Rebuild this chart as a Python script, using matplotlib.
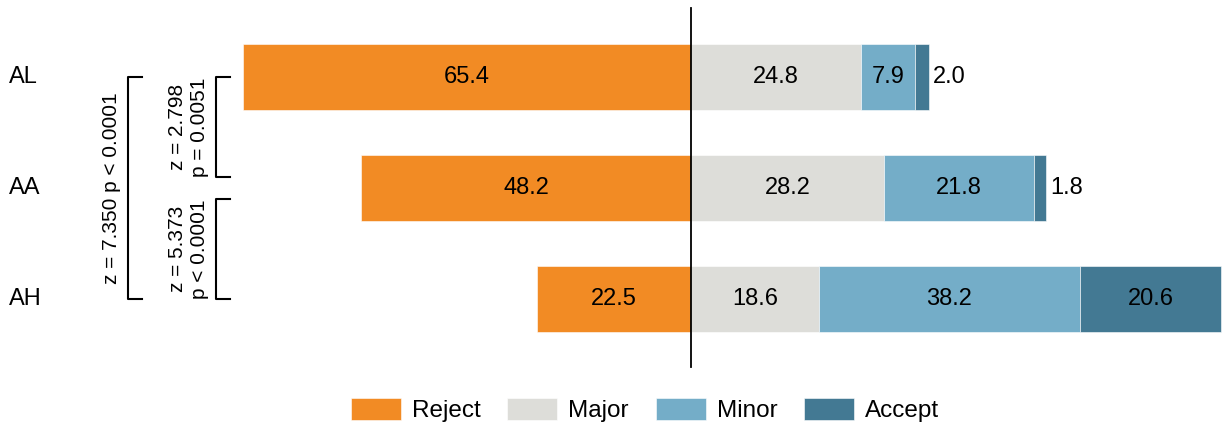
import numpy as np
import matplotlib
matplotlib.use('Agg')
import matplotlib.pyplot as plt
from matplotlib.patches import Patch

plt.rcParams['font.family'] = ['Liberation Sans', 'DejaVu Sans']

groups = ['AL', 'AA', 'AH']
reject = [65.4, 48.2, 22.5]
major = [24.8, 28.2, 18.6]
minor = [7.9, 21.8, 38.2]
accept = [2.0, 1.8, 20.6]
categories = ['Reject', 'Major', 'Minor', 'Accept']
colors = ['#F28B24', '#DDDDD9', '#74ADC8', '#437993']

fig = plt.figure(figsize=(12.29, 4.33), dpi=100)
ax = fig.add_axes([0, 0, 1, 1])
ax.set_xlim(-100.9, 78.5)
ax.set_ylim(3.207, -0.694)
ax.axis('off')

y = np.arange(len(groups))
h = 0.6
fs = 17
fs_note = 15

# reject goes left of zero, the rest stack to the right
ax.barh(y, [-r for r in reject], height=h, color=colors[0], edgecolor='white', linewidth=0.4)
left = np.zeros(len(groups))
for vals, c in zip([major, minor, accept], colors[1:]):
    ax.barh(y, vals, left=left, height=h, color=c, edgecolor='white', linewidth=0.4)
    left += np.array(vals)

for i in range(len(groups)):
    ax.text(-reject[i] / 2, y[i], f'{reject[i]:.1f}', ha='center', va='center', fontsize=fs)
    start = 0.0
    for vals in [major, minor, accept]:
        v = vals[i]
        if v >= 5:
            ax.text(start + v / 2, y[i], f'{v:.1f}', ha='center', va='center', fontsize=fs)
        else:
            ax.text(start + v + 0.6, y[i], f'{v:.1f}', ha='left', va='center', fontsize=fs)
        start += v
    ax.text(-99.6, y[i], groups[i], ha='left', va='center', fontsize=fs)

ax.plot([0, 0], [-0.62, 2.61], color='black', lw=1.3)


def bracket(x0, x1, y0, y1):
    ax.plot([x1, x0, x0, x1], [y0, y0, y1, y1], color='black', lw=1.5)


bracket(-82.2, -80.1, 0, 2)
ax.text(-84.6, 1, 'z = 7.350 p < 0.0001', rotation=90, ha='center', va='center', fontsize=fs_note)
bracket(-69.3, -67.3, 0, 0.9)
ax.text(-73.4, 0.45, 'z = 2.798\np = 0.0051', rotation=90, ha='center', va='center',
        fontsize=fs_note, multialignment='center', linespacing=1.2)
bracket(-69.3, -67.3, 1.1, 2)
ax.text(-73.4, 1.55, 'z = 5.373\np < 0.0001', rotation=90, ha='center', va='center',
        fontsize=fs_note, multialignment='center', linespacing=1.2)

handles = [Patch(facecolor=c, edgecolor='white', linewidth=0.4) for c in colors]
fig.legend(handles, categories, loc='center', bbox_to_anchor=(645 / 1229, 1 - 410 / 433),
           ncol=4, frameon=False, fontsize=17.5, handlelength=2.06, handleheight=1.03,
           handletextpad=0.45, columnspacing=1.1)

fig.savefig('out.png', dpi=100)
